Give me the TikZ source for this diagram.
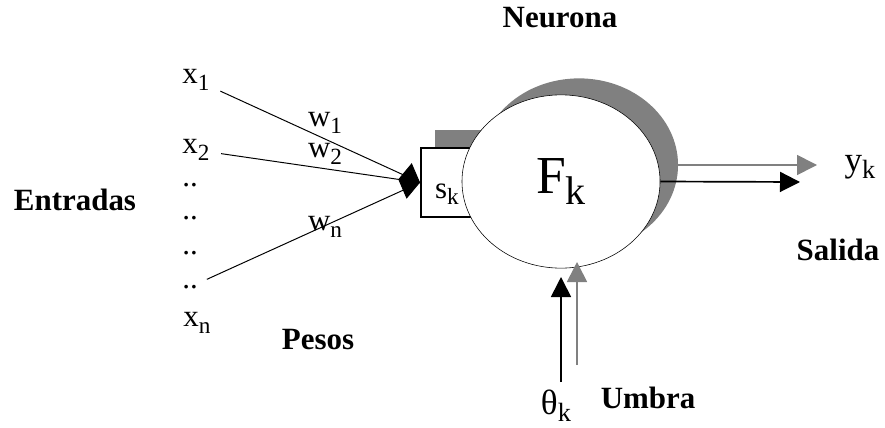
\documentclass[tikz,border=0pt]{standalone}
\usepackage{fontspec}
\setmainfont{Liberation Serif}
\usepackage{tikz}
\usetikzlibrary{shapes,arrows.meta,positioning}

\newcommand{\idx}[1]{\raisebox{-0.45ex}{\scalebox{0.75}{#1}}}

\begin{document}
\begin{tikzpicture}[x=0.025cm, y=-0.025cm,
    lbl/.style={font=\fontsize{22}{26}\selectfont, inner sep=1pt},
    heading/.style={font=\fontsize{22}{26}\selectfont\bfseries},
    cell/.style={ellipse, draw=black, fill=white, minimum width=4.95cm, minimum height=4.33cm, inner sep=0pt, font=\fontsize{38}{44}\selectfont},
    cellshadow/.style={ellipse, fill=gray, minimum width=4.95cm, minimum height=4.33cm, inner sep=0pt},
    sumbox/.style={rectangle, draw=black, fill=white, line width=1.2pt, minimum width=1.73cm, minimum height=1.73cm},
    boxshadow/.style={rectangle, fill=gray, minimum width=1.73cm, minimum height=1.73cm},
    weight/.style={line width=0.7pt, shorten <=0.25cm},
    inarrow/.style={weight, -{Diamond[length=0.55cm, width=0.9cm]}},
    outarrow/.style={-{Triangle[length=0.5cm, width=0.5cm]}, line width=1.2pt},
    grayarrow/.style={outarrow, draw=gray, fill=gray}
]
\useasboundingbox (0,0) rectangle (885,427);

% Titles
\node[heading] (neurona) at (560,18) {Neurona};
\node[heading] (entradas) at (75,200) {Entradas};
\node[heading] (pesos) at (318,340) {Pesos};
\node[heading] (salida) at (838,250) {Salida};
\node[heading] (umbra) at (648,398) {Umbra};

% Inputs
\node[lbl] (x1) at (196,80) {x\idx{1}};
\node[lbl] (x2) at (196,150) {x\idx{2}};
\node[lbl] (d1) at (190,185) {..};
\node[lbl] (d2) at (190,218) {..};
\node[lbl] (d3) at (190,253) {..};
\node[lbl] (d4) at (190,287) {..};
\node[lbl] (xn) at (197,323) {x\idx{n}};

% Summation box and neuron
\node[boxshadow] (sumshadow) at (469.5,164.5) {};
\node[sumbox] (sum) at (455.5,182.5) {};
\node[lbl] (sk) at (447,194) {s\idx{k}};
\node[cellshadow] (fshadow) at (579,165) {};
\node[cell] (f) at (561,181.5) {F\idx{k}};

% Weights
\draw[weight] (x1) -- (sum.west);
\draw[weight] (d4) -- (sum.west);
\draw[inarrow] (x2) -- (sum.west);
\node[lbl] (w1) at (325,123) {w\idx{1}};
\node[lbl] (w2) at (325,154) {w\idx{2}};
\node[lbl] (wn) at (325,227) {w\idx{n}};

% Output
\coordinate (yblack) at (800,182);
\coordinate (ygray) at (817,165);
\draw[grayarrow] (fshadow.east) -- (ygray);
\draw[outarrow] (f.east) -- (yblack);
\node[lbl, font=\fontsize{25}{28}\selectfont] (yk) at (860,167) {y\idx{k}};

% Threshold
\coordinate (tblack0) at (561,382);
\coordinate (tblack1) at (561,277);
\coordinate (tgray0) at (577,365);
\coordinate (tgray1) at (577,262);
\draw[outarrow] (tblack0) -- (tblack1);
\draw[grayarrow] (tgray0) -- (tgray1);
\node[lbl, font=\fontsize{25}{28}\selectfont] (theta) at (556,406) {θ\idx{k}};

\end{tikzpicture}
\end{document}
